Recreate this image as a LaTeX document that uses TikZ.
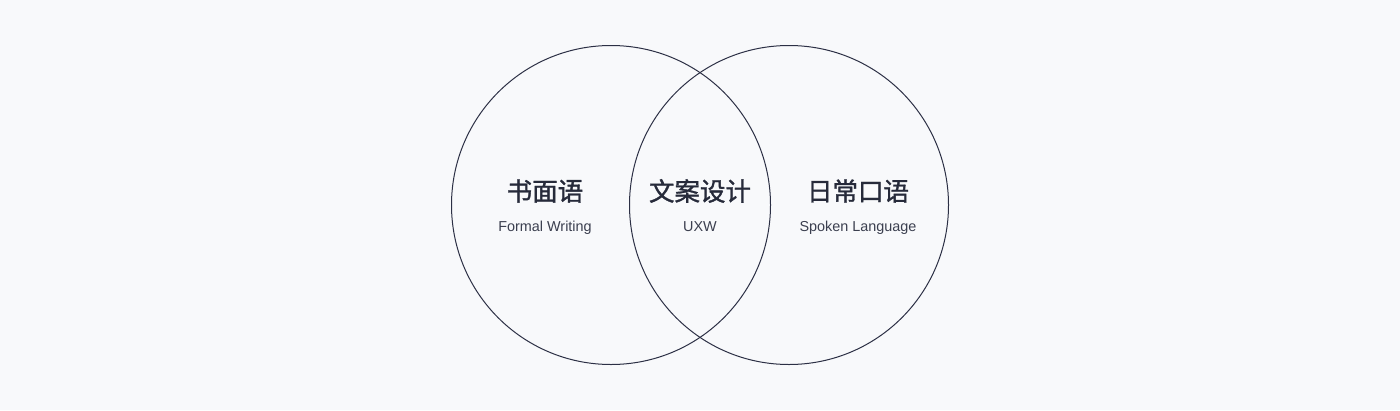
\documentclass[tikz,border=0pt]{standalone}
\usepackage{fontspec}
\setmainfont{Liberation Sans}
\newfontfamily\cjk[FakeBold=1.3]{Noto Sans CJK SC}
\definecolor{bgcol}{HTML}{F8F9FB}
\definecolor{ringcol}{HTML}{2C3045}
\definecolor{titlecol}{HTML}{262A3A}
\definecolor{subcol}{HTML}{3B3F4F}
\tikzset{
    ring/.style = {circle, draw = ringcol, line width = 1pt, minimum size = 319pt, inner sep = 0pt},
    title/.style = {text = titlecol, font = \cjk\fontsize{25.5}{26}\selectfont, inner sep = 0pt},
    sub/.style = {text = subcol, font = \fontsize{14.4}{15}\selectfont, inner sep = 0pt, anchor = base},
}
\begin{document}
\begin{tikzpicture}[x = 1pt, y = -1pt]
        \fill[bgcol] (0, 0) rectangle (1400, 410);
        \useasboundingbox (0, 0) rectangle (1400, 410);
        % two overlapping circles
        \node[ring] (written) at (611, 205) {};
        \node[ring] (spoken) at (789, 205) {};
        % labels
        \node[title] (writtentitle) at (545, 191) {书面语};
        \node[sub] (writtensub) at (545, 231) {Formal Writing};
        \node[title] (uxwtitle) at (700, 191) {文案设计};
        \node[sub] (uxwsub) at (700, 231) {UXW};
        \node[title] (spokentitle) at (858, 191) {日常口语};
        \node[sub] (spokensub) at (858, 231) {Spoken Language};
    \end{tikzpicture}
\end{document}
